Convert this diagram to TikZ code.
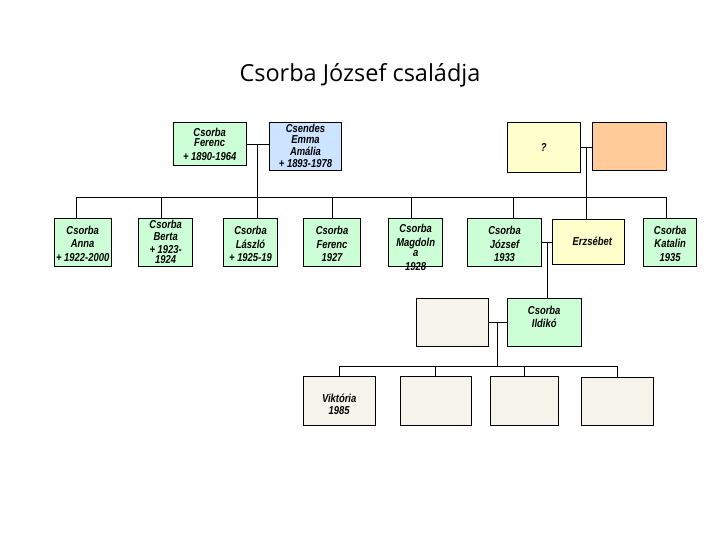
\documentclass[tikz,border=0pt]{standalone}
\usepackage{fontspec}
\setmainfont{Liberation Sans}
\newfontfamily\titlefont{Open Sans}
\newfontfamily\boxfont[FakeStretch=0.82]{Liberation Sans}
\usetikzlibrary{positioning, calc}

\definecolor{mint}{RGB}{204,255,214}
\definecolor{sky}{RGB}{204,228,255}
\definecolor{cream}{RGB}{255,255,204}
\definecolor{peach}{RGB}{255,204,153}
\definecolor{blank}{RGB}{246,244,234}

\begin{document}
\begin{tikzpicture}[
        x=1pt, y=-1pt,
        box/.style={rectangle, draw, line width=0.8pt, inner sep=0pt, minimum width=72pt, minimum height=48pt},
        kid/.style={box, fill=mint, minimum width=54pt},
        txt/.style={align=center, inner sep=0pt, font=\boxfont\bfseries\itshape\fontsize{11.5}{13.5}\selectfont},
        link/.style={line width=0.8pt}
    ]
    \useasboundingbox (0,0) rectangle (720,540);

    \node[anchor=base, font=\titlefont\fontsize{23.5}{28}\selectfont] (title) at (360,82) {Csorba József családja};

    \node[box, fill=mint, minimum width=73pt, minimum height=43pt, label={[txt]center:{Csorba\\[-3.5pt]Ferenc\\[0.5pt]+ 1890-1964}}] (ferencsr) at (209.7,144.3) {};
    \node[box, fill=sky, label={[txt, yshift=1pt]center:{Csendes\\[-2.5pt]Emma\\[-1.5pt]Amália\\[-1.5pt]+ 1893-1978}}] (emma) at (305.5,146.7) {};
    \node[box, fill=cream, minimum width=73pt, minimum height=49.6pt, label={[txt]center:{?}}] (unknown) at (543.7,147.5) {};
    \node[box, fill=peach, minimum width=74.4pt] (inlaw) at (629.5,146.7) {};

    \node[kid, minimum width=56.7pt, label={[txt, yshift=-1pt]center:{Csorba\\Anna\\+ 1922-2000}}] (anna) at (82.7,242.5) {};
    \node[kid, label={[txt, yshift=1pt]center:{Csorba\\[-1pt]Berta\\[-1pt]+ 1923-\\[-3.5pt]1924}}] (berta) at (165.7,242.5) {};
    \node[kid, minimum width=53.6pt, label={[txt, yshift=-1.5pt]center:{Csorba\\László\\+ 1925-19}}] (laszlo) at (250.5,242.5) {};
    \node[kid, minimum width=57.4pt, label={[txt, yshift=-1.5pt]center:{Csorba\\Ferenc\\1927}}] (ferenc) at (332,242.5) {};
    \node[kid, label={[txt, yshift=-5pt]center:{Csorba\\Magdoln\\[-3.5pt]a\\[0.5pt]1928}}] (magdolna) at (415.7,242.5) {};
    \node[kid, minimum width=74.4pt, label={[txt, yshift=-1.5pt]center:{Csorba\\József\\1933}}] (jozsef) at (504.5,242.5) {};
    \node[box, fill=cream, minimum height=45pt, label={[txt, xshift=4pt]center:{Erzsébet}}] (erzsebet) at (588.3,241.5) {};
    \node[kid, minimum width=53pt, label={[txt, yshift=-1pt]center:{Csorba\\Katalin\\1935}}] (katalin) at (670.2,242.8) {};

    \node[box, fill=blank, minimum width=71.6pt] (spouse) at (452.5,322.2) {};
    \node[box, fill=mint, minimum width=73.7pt, label={[txt, yshift=5.5pt]center:{Csorba\\Ildikó}}] (ildiko) at (544.2,322.2) {};

    \node[box, fill=blank, minimum width=71.7pt, minimum height=49pt, label={[txt, yshift=-3pt]center:{Viktória\\[-1.5pt]1985}}] (viktoria) at (339.2,401.2) {};
    \node[box, fill=blank, minimum width=71.7pt, minimum height=49pt] (child2) at (435.8,401.2) {};
    \node[box, fill=blank, minimum width=68.3pt, minimum height=49pt] (child3) at (524.2,401.2) {};
    \node[box, fill=blank, minimum width=71.6pt, minimum height=48pt] (child4) at (617.5,401.2) {};

    \coordinate (bar) at (0,197);
    \coordinate (bar2) at (0,366);

    \draw[link] (ferencsr.east) -- coordinate (par1) (ferencsr.east -| emma.west);
    \draw[link] (par1) -- (par1 |- laszlo.north);
    \draw[link] (unknown.east) -- coordinate (par2) (unknown.east -| inlaw.west);
    \draw[link] (par2) -- (par2 |- erzsebet.north);

    \foreach \kid/\dx in {anna/-6, berta/-4, ferenc/0, magdolna/-4, jozsef/9, katalin/-3.5} {
        \path ([xshift=\dx]\kid.north) coordinate (\kid-top);
        \draw[link] (\kid-top) -- (\kid-top |- bar);
    }
    \draw[link] (anna-top |- bar) -- (katalin-top |- bar);

    \draw[link] (jozsef.east) -- coordinate (par3) (jozsef.east -| erzsebet.west);
    \draw[link] (par3) -- (par3 |- ildiko.north);

    \draw[link] (spouse.east) -- coordinate (par4) (spouse.east -| ildiko.west);
    \draw[link] (par4) -- (par4 |- bar2);
    \foreach \kid in {viktoria, child2, child3, child4}
        \draw[link] (\kid.north) -- (\kid.north |- bar2);
    \draw[link] (viktoria.north |- bar2) -- (child4.north |- bar2);

\end{tikzpicture}
\end{document}
